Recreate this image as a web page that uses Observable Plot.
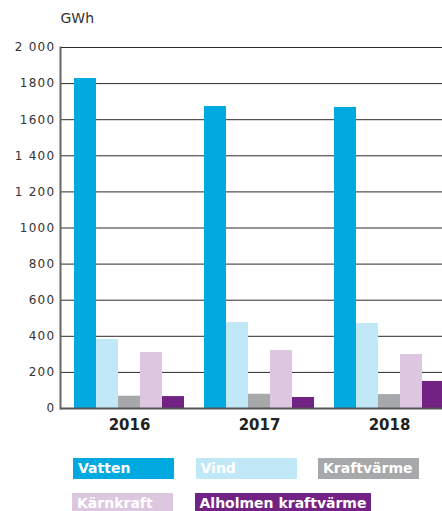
<!DOCTYPE html>
<html>
<head>
<meta charset="utf-8">
<script src="https://cdn.jsdelivr.net/npm/d3@7"></script>
<script src="https://cdn.jsdelivr.net/npm/@observablehq/plot@0.6"></script>
<style>
  html, body { margin: 0; padding: 0; background: #fff; overflow: hidden; }
  body { width: 442px; height: 511px; font-family: "DejaVu Sans", sans-serif; }
  #chart svg { max-width: none; display: block; }
  #chart .ytick text { letter-spacing: 1.3px; }
  #legend { position: relative; width: 442px; height: 53px; margin-top: 18px; }
  .lg { position: absolute; height: 21px; line-height: 21px; color: #fff; font-weight: bold;
        font-size: 14px; padding-left: 5px; padding-right: 5px; box-sizing: border-box; white-space: nowrap; }
</style>
</head>
<body>
<div id="chart"></div>
<div id="legend"></div>
<script>
const years = ["2016", "2017", "2018"];
const series = ["Vatten", "Vind", "Kraftvärme", "Kärnkraft", "Alholmen kraftvärme"];
const colors = ["#00a9e0", "#c1e8f6", "#a7a8aa", "#dcc6e0", "#722282"];
const vatten = [1828, 1673, 1668];
const vind = [382, 476, 471];
const kraftvarme = [68, 79, 77];
const karnkraft = [310, 321, 299];
const alholmen = [66, 61, 150];
const yTicks = [0, 200, 400, 600, 800, 1000, 1200, 1400, 1600, 1800, 2000];
const yTickLabels = ["0", "200", "400", "600", "800", "1000", "1 200", "1 400", "1600", "1800", "2 000"];
const unit = "GWh";

const valuesBySeries = [vatten, vind, kraftvarme, karnkraft, alholmen];
const data = [];
years.forEach((year, yi) => {
  series.forEach((s, si) => data.push({year, series: s, value: valuesBySeries[si][yi]}));
});

const chart = Plot.plot({
  width: 460,
  height: 440,
  marginLeft: 60,
  marginRight: 2,
  marginTop: 47,
  marginBottom: 32,
  style: {fontFamily: "DejaVu Sans, sans-serif", background: "#fff"},
  fx: {domain: years, paddingInner: 0.123, paddingOuter: 0.092, axis: null, label: null},
  x: {domain: series, padding: 0, axis: null},
  y: {domain: [0, 2000], axis: null},
  color: {domain: series, range: colors},
  marks: [
    Plot.ruleY(yTicks, {stroke: "#2a2a2a", strokeWidth: 1, insetLeft: -12, insetRight: -4}),
    Plot.barY(data, {fx: "year", x: "series", y: "value", fill: "series"}),
    Plot.ruleY([0], {stroke: "#555", strokeWidth: 2, insetLeft: -12, insetRight: -4}),
    Plot.frame({anchor: "left", facet: "super", stroke: "#666", strokeWidth: 2, dx: -12}),
    Plot.text(yTicks, {fx: () => years[0], y: d => d, text: (d, i) => yTickLabels[i], frameAnchor: "left",
      textAnchor: "end", dx: -17, fontSize: 12, fill: "#333", className: "ytick"}),
    Plot.text(years, {fx: d => d, text: d => d, frameAnchor: "bottom", dy: 21, fontSize: 15,
      fontWeight: "bold", fill: "#222"}),
    Plot.text([unit], {facet: "super", text: d => d, frameAnchor: "top-left", dy: -34, dx: -12,
      textAnchor: "start", fontSize: 14, fill: "#333"})
  ]
});
document.getElementById("chart").appendChild(chart);

const legend = document.getElementById("legend");
series.forEach((s, i) => {
  const el = document.createElement("div");
  el.className = "lg";
  el.textContent = s;
  el.style.background = colors[i];
  const col = i % 3, row = Math.floor(i / 3);
  el.style.left = (73 + col * 122.5 - (row ? 1 : 0)) + "px";
  el.style.top = (row * 35) + "px";
  el.style.minWidth = "101px";
  legend.appendChild(el);
});
</script>
</body>
</html>
